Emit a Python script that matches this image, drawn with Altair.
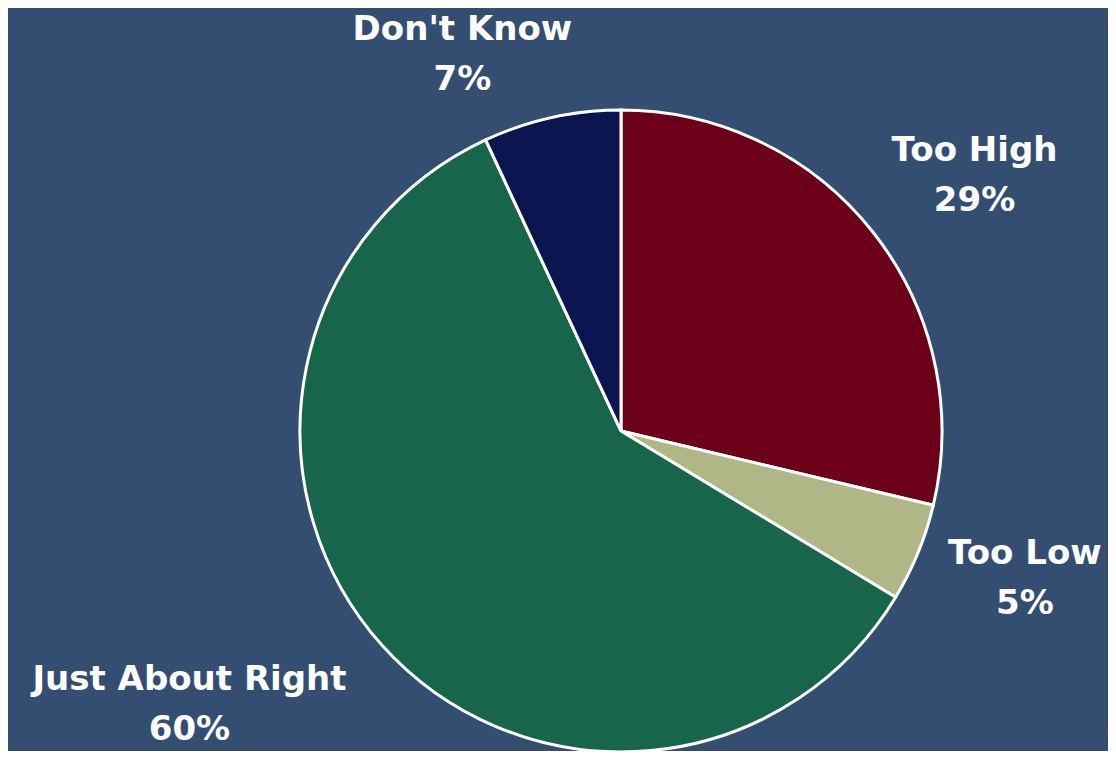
import altair as alt
import pandas as pd

categories = ["Too High", "Too Low", "Just About Right", "Don't Know"]
values = [29, 5, 60, 7]
colors = ["#6D0019", "#AEB785", "#17654B", "#0B1650"]

# label placement (Excel-style manual label positions): distance from centre and angle nudge (deg)
label_radius = {"Too High": 436, "Too Low": 430, "Just About Right": 511, "Don't Know": 408}
label_shift = {"Too High": 2.5, "Too Low": -2.2, "Just About Right": 9.5, "Don't Know": -10.4}

df = pd.DataFrame({
    "category": categories,
    "value": values,
    "order": list(range(len(categories))),
    "label": [f"{c}\n{v}%" for c, v in zip(categories, values)],
    "label_r": [label_radius[c] for c in categories],
    "label_shift": [label_shift[c] for c in categories],
})

cx, cy = 613, 423
R = 321

pie = alt.Chart(df).mark_arc(outerRadius=R, stroke="white", strokeWidth=3).encode(
    theta=alt.Theta("value:Q", stack=True),
    order=alt.Order("order:Q"),
    x=alt.value(cx),
    y=alt.value(cy),
    color=alt.Color("category:N", scale=alt.Scale(domain=categories, range=colors), legend=None),
)

labels = alt.Chart(df).transform_joinaggregate(
    total="sum(value)"
).transform_window(
    cum="sum(value)", sort=[alt.SortField("order")], frame=[None, 0]
).transform_calculate(
    mid="(datum.cum - datum.value / 2) / datum.total * 2 * PI + datum.label_shift * PI / 180"
).mark_text(
    font="DejaVu Sans", fontWeight="bold", fontSize=34, color="white",
    lineBreak="\n", lineHeight=50, align="center", baseline="middle", dy=-25,
).encode(
    theta=alt.Theta("mid:Q", scale=None),
    radius=alt.Radius("label_r:Q", scale=None),
    x=alt.value(cx),
    y=alt.value(cy),
    text="label:N",
)

chart = alt.layer(pie, labels).properties(
    width=1100, height=743,
    autosize=alt.AutoSizeParams(type="fit", contains="padding"),
    padding=0,
    background="#344E72",
).configure_view(stroke=None)

chart.save("out.html", embed_options={"renderer": "svg", "actions": False})
